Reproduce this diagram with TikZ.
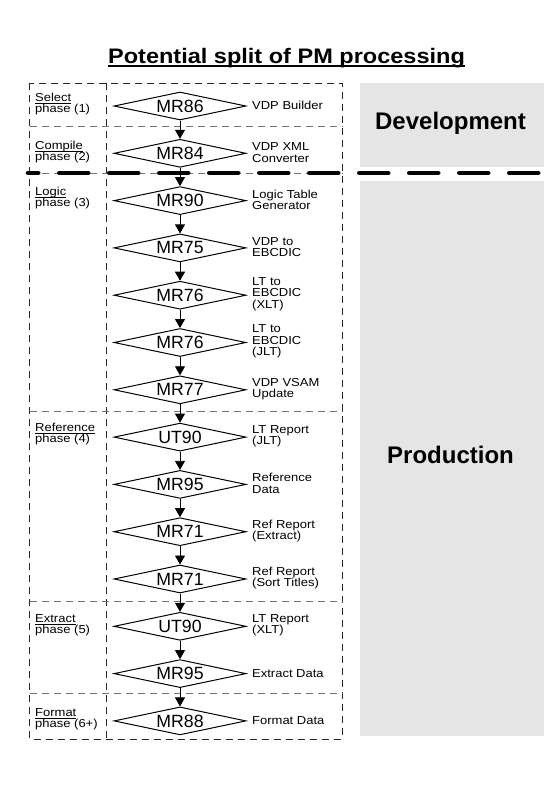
\documentclass[tikz,border=0pt]{standalone}
\usepackage{fontspec}
\setmainfont{Liberation Sans}
\newfontfamily\lblfont[FakeStretch=1.12]{Liberation Sans}
\newfontfamily\ttlfont[FakeStretch=1.12]{Liberation Sans}
\usetikzlibrary{shapes.geometric,arrows.meta}
\newcommand\myul[3]{\setbox0\hbox{#1}\leavevmode\rlap{\rule[-#2]{\wd0}{#3}}\box0}
\definecolor{panelgray}{HTML}{E5E5E5}
\begin{document}
\begin{tikzpicture}[x=1pt,y=-1pt,
  proc/.style={draw, line width=1pt, shape=diamond, aspect=4.7, minimum width=132pt, minimum height=28pt, inner sep=0pt, font=\fontsize{17.7}{18}\selectfont},
  lbl/.style={anchor=west, align=left, inner sep=0pt, font=\lblfont\fontsize{11.6}{11.3}\selectfont},
  big/.style={inner sep=0pt, font=\bfseries\fontsize{24}{26}\selectfont},
  boxline/.style={draw=black!85, line width=0.9pt, dash pattern=on 7pt off 5pt},
  bandline/.style={draw=black!55, line width=0.9pt, dash pattern=on 7pt off 5pt},
  arr/.style={draw, line width=0.8pt, -{Triangle[width=10pt,length=9pt]}}
]
\useasboundingbox (0,0) rectangle (544,785);

% title
\node[inner sep=0pt, anchor=base, font=\ttlfont\bfseries\fontsize{21}{24}\selectfont] (title) at (286.5,63) {\myul{Potential split of PM processing}{4pt}{2pt}};

% right panels
\fill[panelgray] (360,83) rectangle (544,167);
\fill[panelgray] (360,181) rectangle (544,736);
\node[big] (devt) at (450.5,123) {Development};
\node[big] (prodt) at (450.5,455) {Production};

% phase boxes
\draw[boxline] (29.5,83.3) rectangle (342,739);
\draw[boxline] (106,83.3) -- (106,739);
\draw[bandline] (29.5,126) -- (342,126);
\draw[bandline] (29.5,173) -- (342,173);
\draw[bandline] (29.5,411) -- (342,411);
\draw[bandline] (29.5,601) -- (342,601);
\draw[bandline] (29.5,693) -- (342,693);

% phase labels
\node[lbl] (ph1) at (35,104) {\myul{Select}{2.5pt}{0.8pt}\\phase (1)};
\node[lbl] (ph2) at (35,152) {\myul{Compile}{2.5pt}{0.8pt}\\phase (2)};
\node[lbl] (ph3) at (35,198) {\myul{Logic}{2.5pt}{0.8pt}\\phase (3)};
\node[lbl] (ph4) at (35,434) {\myul{Reference}{2.5pt}{0.8pt}\\phase (4)};
\node[lbl] (ph5) at (35,625) {\myul{Extract}{2.5pt}{0.8pt}\\phase (5)};
\node[lbl] (ph6) at (35,719) {\myul{Format}{2.5pt}{0.8pt}\\phase (6+)};

% diamonds
\node[proc] (d0) at (180,106.0) {MR86};
\node[proc] (d1) at (180,153.3) {MR84};
\node[proc] (d2) at (180,200.6) {MR90};
\node[proc] (d3) at (180,247.9) {MR75};
\node[proc] (d4) at (180,295.2) {MR76};
\node[proc] (d5) at (180,342.5) {MR76};
\node[proc] (d6) at (180,389.8) {MR77};
\node[proc] (d7) at (180,437.1) {UT90};
\node[proc] (d8) at (180,484.4) {MR95};
\node[proc] (d9) at (180,531.7) {MR71};
\node[proc] (d10) at (180,579.0) {MR71};
\node[proc] (d11) at (180,626.3) {UT90};
\node[proc] (d12) at (180,673.6) {MR95};
\node[proc] (d13) at (180,720.9) {MR88};

% descriptions
\node[lbl] (l0) at (252,105.5) {VDP Builder};
\node[lbl] (l1) at (252,152.5) {VDP XML\\Converter};
\node[lbl] (l2) at (252,199.6) {Logic Table\\Generator};
\node[lbl] (l3) at (252,246.9) {VDP to\\EBCDIC};
\node[lbl] (l4) at (252,294.2) {LT to\\EBCDIC\\(XLT)};
\node[lbl] (l5) at (252,341.5) {LT to\\EBCDIC\\(JLT)};
\node[lbl] (l6) at (252,388.8) {VDP VSAM\\Update};
\node[lbl] (l7) at (252,436.1) {LT Report\\(JLT)};
\node[lbl] (l8) at (252,483.4) {Reference\\Data};
\node[lbl] (l9) at (252,530.7) {Ref Report\\(Extract)};
\node[lbl] (l10) at (252,578.0) {Ref Report\\(Sort Titles)};
\node[lbl] (l11) at (252,625.3) {LT Report\\(XLT)};
\node[lbl] (l12) at (252,673.1) {Extract Data};
\node[lbl] (l13) at (252,720.4) {Format Data};

% arrows
\foreach \a/\b in {d0/d1,d1/d2,d2/d3,d3/d4,d4/d5,d5/d6,d6/d7,d7/d8,d8/d9,d9/d10,d10/d11,d11/d12,d12/d13}
  \draw[arr] (\a.south) -- (\b.north);

% development / production split
\draw[line width=4.5pt, line cap=round, dash pattern=on 29pt off 21pt, dash phase=18.75pt] (28,173) -- (540,173);
\end{tikzpicture}
\end{document}
